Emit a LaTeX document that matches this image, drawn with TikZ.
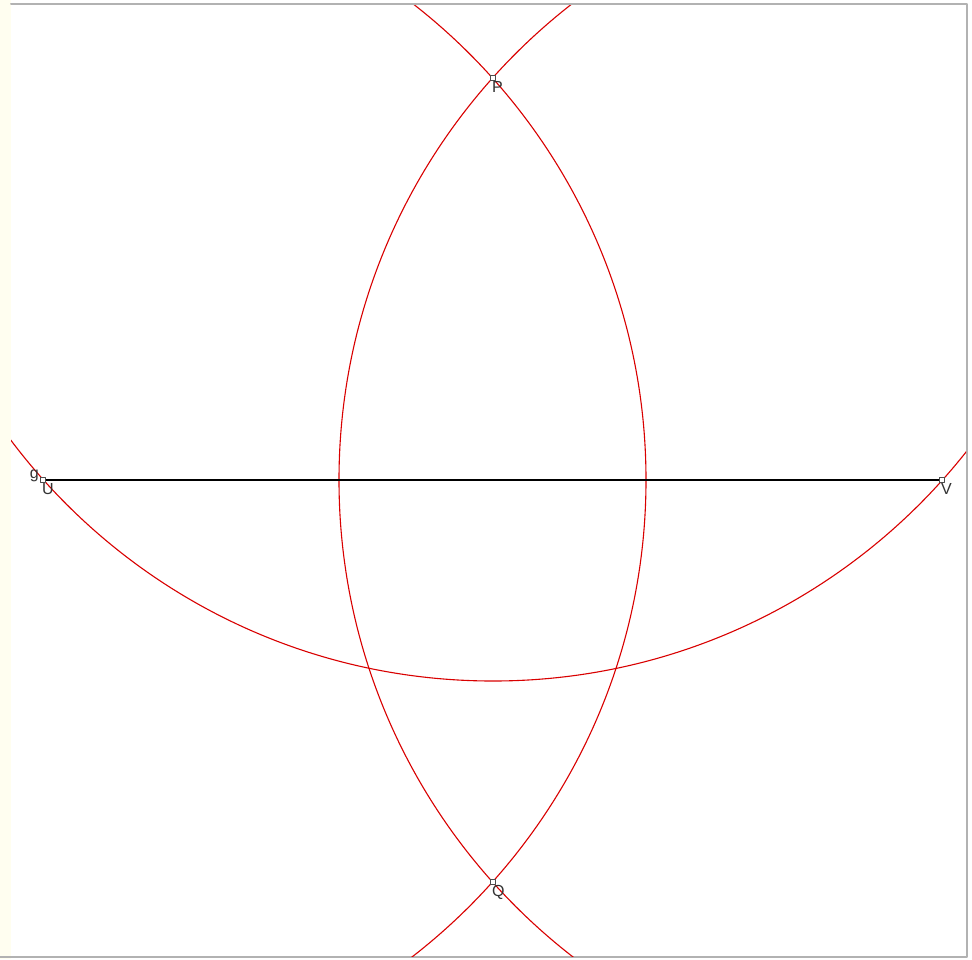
\documentclass[tikz,border=0pt]{standalone}
\usepackage{fontspec}
\setmainfont{Liberation Sans}
\usetikzlibrary{calc}

\tikzset{
  arc/.style={red!85!black, line width=1.1pt},
  pt/.style={draw=black!70, fill=white, inner sep=0pt, minimum size=5pt, line width=0.7pt},
  lbl/.style={font=\fontsize{16}{16}\selectfont, text=black!80, inner sep=0pt}
}

\begin{document}
\begin{tikzpicture}[x=1pt, y=-1pt, line cap=round, line join=round]
  \useasboundingbox (0,0) rectangle (972,959);
  % Frame and left strip.
  \fill[yellow!6] (0,0) rectangle (11,959);
  \fill[white] (11,4) rectangle (967,957);
  \draw[black!30, line width=2pt] (11,4) -- (967,4) -- (967,957) -- (0,957);
  % Points.
  \coordinate (U) at (43,480);
  \coordinate (V) at (942,480);
  \coordinate (P) at (493,78);
  \coordinate (Q) at (493,882);
  % Circles, clipped to the frame.
  \begin{scope}
    \clip (11,5) rectangle (966,956);
    \foreach \c in {U,V,P} {
      \draw[arc] (\c) circle (603);
    }
  \end{scope}
  % Segment UV.
  \draw[line width=2.2pt] (U) -- (V);
  % Markers and labels.
  \foreach \p in {U,V,P,Q} {
    \node[pt] (m\p) at (\p) {};
    \node[lbl, anchor=north west] (l\p) at ($(\p)+(-1,3)$) {\p};
  }
  \node[lbl, anchor=south east] (lg) at ($(U)+(-4,2)$) {g};
\end{tikzpicture}
\end{document}
